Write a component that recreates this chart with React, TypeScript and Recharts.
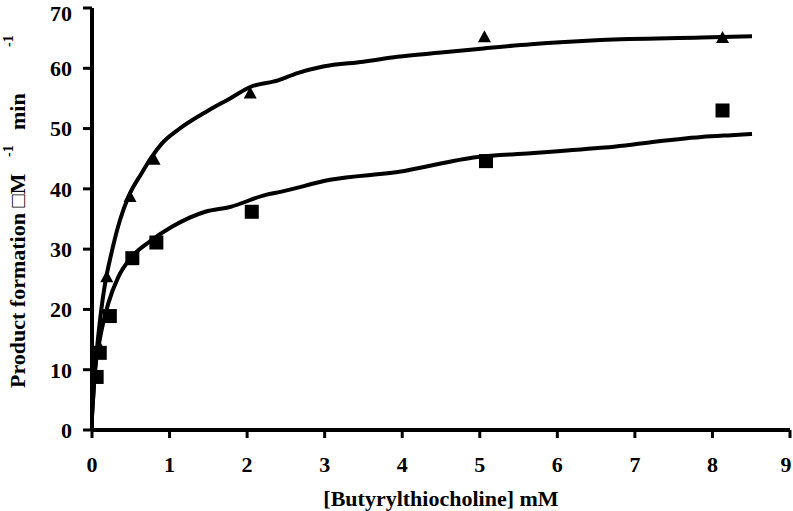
import React from "react";
import { ComposedChart, Line, Scatter, XAxis, YAxis } from "recharts";

// Fitted curves
const upperCurveX = [0, 0.04, 0.08, 0.12, 0.17, 0.25, 0.36, 0.47, 0.64, 0.77, 0.9, 1.11, 1.5, 1.78, 2.04, 2.4, 2.65, 2.98, 3.5, 3.94, 4.5, 5.05, 5.66, 6.56, 7.86, 8.51];
const upperCurveY = [2.3, 10, 15.5, 20, 24.4, 29.3, 34.8, 38.7, 42.6, 45.3, 47.5, 49.8, 53, 55, 56.9, 58, 59.2, 60.3, 61.1, 61.9, 62.6, 63.3, 64, 64.7, 65.1, 65.3];
const lowerCurveX = [0, 0.04, 0.1, 0.21, 0.34, 0.51, 0.77, 1.03, 1.46, 1.78, 2.24, 2.43, 3.07, 3.94, 4.97, 5.66, 6.56, 7.86, 8.24, 8.51];
const lowerCurveY = [2.3, 10, 15, 21, 25.4, 28.7, 31.5, 33.7, 36.2, 37.0, 39.0, 39.5, 41.5, 42.8, 45.3, 45.9, 46.8, 48.6, 48.9, 49.1];

// Measured points
const triangleX = [0.1, 0.19, 0.49, 0.8, 2.04, 5.06, 8.13];
const triangleY = [13.8, 25.5, 38.8, 45, 56, 65.3, 65.2];
const squareX = [0.06, 0.1, 0.23, 0.52, 0.83, 2.06, 5.08, 8.13];
const squareY = [8.8, 12.8, 18.9, 28.5, 31.1, 36.2, 44.6, 53];

const xTicks = [0, 1, 2, 3, 4, 5, 6, 7, 8, 9];
const yTicks = [0, 10, 20, 30, 40, 50, 60, 70];

const zip = (xs: number[], ys: number[]) => xs.map((x, i) => ({ x, y: ys[i] }));
const upperCurve = zip(upperCurveX, upperCurveY);
const lowerCurve = zip(lowerCurveX, lowerCurveY);
const triangles = zip(triangleX, triangleY);
const squares = zip(squareX, squareY);

const FONT = "'Liberation Serif', 'Times New Roman', serif";

const Triangle = (props: any) => {
  const { cx, cy } = props;
  if (cx == null || cy == null) return null;
  return <polygon points={`${cx - 6.5},${cy + 6} ${cx + 6.5},${cy + 6} ${cx},${cy - 6}`} fill="#000" />;
};

const Square = (props: any) => {
  const { cx, cy } = props;
  if (cx == null || cy == null) return null;
  return <rect x={cx - 7} y={cy - 7} width={14} height={14} fill="#000" />;
};

const YLabel = () => (
  <text
    transform="translate(25, 388) rotate(-90)"
    fontFamily={FONT}
    fontWeight="bold"
    fontSize={22}
    fill="#000"
  >
    <tspan x={0} y={0}>Product formation □M</tspan>
    <tspan x={231} y={-12} fontSize={14}>-1</tspan>
    <tspan x={258} y={0}>min</tspan>
    <tspan x={341} y={-12} fontSize={14}>-1</tspan>
  </text>
);

const XLabel = () => (
  <text x={441} y={506} textAnchor="middle" fontFamily={FONT} fontWeight="bold" fontSize={22} fill="#000">
    [Butyrylthiocholine] mM
  </text>
);

const XTick = (props: any) => {
  const { x, y, payload } = props;
  const cx = Math.min(x, 786);
  return (
    <text x={cx} y={y} dy="0.71em" textAnchor="middle" fontFamily={FONT} fontWeight="bold" fontSize={22} fill="#000">
      {payload.value}
    </text>
  );
};

const YTick = (props: any) => {
  const { x, y, payload } = props;
  const cy = Math.max(y, 13);
  return (
    <text x={x} y={cy} dy="0.355em" textAnchor="end" fontFamily={FONT} fontWeight="bold" fontSize={22} fill="#000">
      {payload.value}
    </text>
  );
};

export default function App() {
  return (
    <div style={{ position: "absolute", left: 0, top: 0, width: 793, height: 511, background: "#fff" }}>
      <ComposedChart width={793} height={511} margin={{ top: 8, right: 3, left: 0, bottom: 0 }}>
        <XAxis
          type="number"
          dataKey="x"
          domain={[0, 9]}
          ticks={xTicks}
          interval={0}
          height={81}
          axisLine={{ stroke: "#000", strokeWidth: 4 }}
          tickLine={{ stroke: "#000", strokeWidth: 3 }}
          tickSize={8}
          tickMargin={18}
          tick={<XTick />}
          label={<XLabel />}
          allowDataOverflow
        />
        <YAxis
          type="number"
          dataKey="y"
          domain={[0, 70]}
          ticks={yTicks}
          interval={0}
          width={92}
          axisLine={{ stroke: "#000", strokeWidth: 4 }}
          tickLine={{ stroke: "#000", strokeWidth: 3 }}
          tickSize={9}
          tickMargin={11}
          tick={<YTick />}
          label={<YLabel />}
          allowDataOverflow
        />
        <Line data={upperCurve} dataKey="y" type="monotone" stroke="#000" strokeWidth={4} dot={false} isAnimationActive={false} />
        <Line data={lowerCurve} dataKey="y" type="monotone" stroke="#000" strokeWidth={4} dot={false} isAnimationActive={false} />
        <Scatter data={triangles} dataKey="y" shape={<Triangle />} isAnimationActive={false} />
        <Scatter data={squares} dataKey="y" shape={<Square />} isAnimationActive={false} />
      </ComposedChart>
    </div>
  );
}
